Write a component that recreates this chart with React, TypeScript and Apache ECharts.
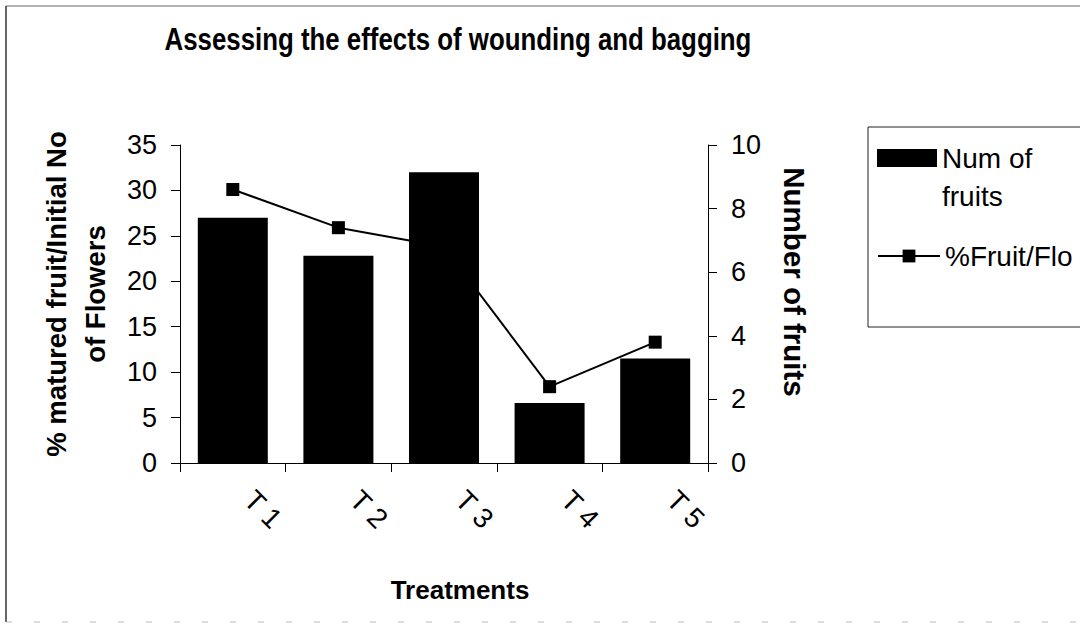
import React, { useEffect, useRef } from "react";
import * as echarts from "echarts";

const categories = ["T1", "T2", "T3", "T4", "T5"];
const numFruits = [27, 22.8, 32, 6.6, 11.5];
const pctFruitFlo = [8.6, 7.4, 6.8, 2.4, 3.8];
const leftTicks = { min: 0, max: 35, interval: 5 };
const rightTicks = { min: 0, max: 10, interval: 2 };

const SANS = "'Liberation Sans', Arial, sans-serif";

export default function App() {
  const ref = useRef<HTMLDivElement>(null);
  useEffect(() => {
    if (!ref.current) return;
    const chart = echarts.init(ref.current, null, { renderer: "svg" });
    const axisCommon = {
      axisLine: { show: true, lineStyle: { color: "#000", width: 1 } },
      axisTick: { show: true, length: 9, lineStyle: { color: "#000" } },
      splitLine: { show: false },
    };
    chart.setOption({
      animation: false,
      backgroundColor: "#fff",
      grid: { left: 180, right: 372, top: 145, bottom: 163, containLabel: false },
      legend: [
        {
          data: ["Num of fruits"],
          formatter: (n: string) => (n === "Num of fruits" ? "Num of\nfruits" : n),
          orient: "vertical",
          left: 877,
          top: 139,
          padding: 0,
          icon: "path://M0 0H60V18H0Z M0 56L0.01 56",
          itemWidth: 60,
          itemHeight: 56,
          itemGap: 0,
          selectedMode: false,
          textStyle: { fontFamily: SANS, fontSize: 28, lineHeight: 38, color: "#000" },
        },
        {
          data: ["%Fruit/Flo"],
          orient: "vertical",
          left: 877,
          top: 241,
          padding: 0,
          itemWidth: 62,
          itemHeight: 16,
          selectedMode: false,
          textStyle: { fontFamily: SANS, fontSize: 28, lineHeight: 30, color: "#000" },
        },
      ],
      xAxis: {
        type: "category",
        data: categories,
        ...axisCommon,
        axisTick: { show: true, length: 9, alignWithLabel: false, lineStyle: { color: "#000" } },
        axisLabel: {
          interval: 0,
          rotate: -45,
          margin: 16,
          padding: [0, 0, 0, 23],
          fontFamily: SANS,
          fontSize: 28,
          color: "#000",
          formatter: (v: string) => v.split("").join(" "),
        },
        name: "Treatments",
        nameLocation: "middle",
        nameGap: 114,
        nameTextStyle: { fontFamily: SANS, fontWeight: "bold", fontSize: 26, color: "#000", padding: [0, 0, 0, 32] },
      },
      yAxis: [
        {
          type: "value",
          position: "left",
          ...leftTicks,
          ...axisCommon,
          axisLabel: { margin: 23, fontFamily: SANS, fontSize: 27, color: "#000" },
          name: "% matured fruit/Initial No\nof Flowers",
          nameLocation: "middle",
          nameRotate: 90,
          nameGap: 65,
          nameTextStyle: {
            fontFamily: SANS,
            fontWeight: "bold",
            fontSize: 27.5,
            lineHeight: 39,
            color: "#000",
            padding: [0, 0, 0, 20],
          },
        },
        {
          type: "value",
          position: "right",
          ...rightTicks,
          ...axisCommon,
          axisLabel: { margin: 23, fontFamily: SANS, fontSize: 27, color: "#000" },
          name: "Number of fruits",
          nameLocation: "middle",
          nameRotate: -90,
          nameGap: 71,
          nameTextStyle: { fontFamily: SANS, fontWeight: "bold", fontSize: 29.5, color: "#000", padding: [0, 44, 0, 0] },
        },
      ],
      series: [
        {
          name: "Num of fruits",
          type: "bar",
          yAxisIndex: 0,
          data: numFruits,
          barWidth: 70,
          itemStyle: { color: "#000" },
        },
        {
          name: "%Fruit/Flo",
          type: "line",
          yAxisIndex: 1,
          data: pctFruitFlo,
          symbol: "rect",
          symbolSize: 13,
          lineStyle: { color: "#000", width: 2 },
          itemStyle: { color: "#000" },
        },
      ],
      graphic: [
        {
          type: "text",
          x: 458,
          y: 39,
          scaleX: 0.82,
          silent: true,
          style: {
            text: "Assessing the effects of wounding and bagging",
            fontFamily: SANS,
            fontWeight: "bold",
            fontSize: 31.5,
            fill: "#000",
            align: "center",
            verticalAlign: "middle",
          },
        },
        { type: "rect", shape: { x: 868, y: 127, width: 260, height: 200 }, style: { fill: "none", stroke: "#222", lineWidth: 1 }, silent: true },
        { type: "line", shape: { x1: 6, y1: 6, x2: 1080, y2: 6 }, style: { stroke: "#666", lineWidth: 1 }, silent: true },
        { type: "line", shape: { x1: 6, y1: 6, x2: 6, y2: 622 }, style: { stroke: "#333", lineWidth: 1.5 }, silent: true },
        { type: "line", shape: { x1: 6, y1: 622, x2: 1080, y2: 622 }, style: { stroke: "#bbb", lineWidth: 1, lineDash: [6, 22] }, silent: true },
      ],
    });
    return () => chart.dispose();
  }, []);
  return <div ref={ref} style={{ position: "fixed", left: 0, top: 0, width: 1080, height: 626 }} />;
}
